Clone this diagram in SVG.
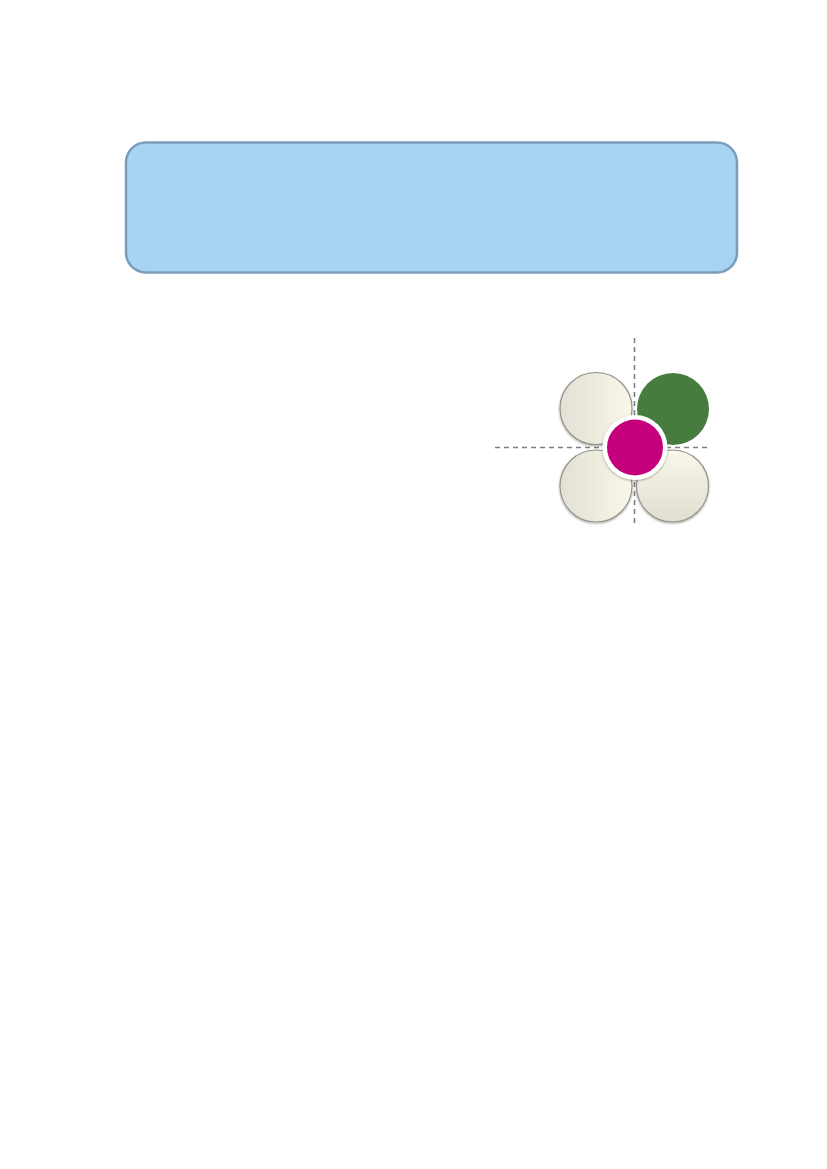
<svg xmlns="http://www.w3.org/2000/svg" width="827" height="1169" viewBox="0 0 827 1169">
  <style>
    .petal { stroke: #96948a; stroke-width: 1.2; filter: url(#shadow); }
    .guide { stroke: #7f7f7f; stroke-width: 1.6; stroke-dasharray: 5 4; fill: none; }
  </style>
  <defs>
    <linearGradient id="gH" x1="0" y1="0" x2="1" y2="0">
      <stop offset="0" stop-color="#e2e0d4"/>
      <stop offset="1" stop-color="#f9f7e9"/>
    </linearGradient>
    <linearGradient id="gV" x1="0" y1="0" x2="0" y2="1">
      <stop offset="0" stop-color="#f9f7e9"/>
      <stop offset="1" stop-color="#e0ded1"/>
    </linearGradient>
    <filter id="shadow" x="-20%" y="-20%" width="140%" height="140%">
      <feDropShadow dx="0" dy="1" stdDeviation="1" flood-color="#000" flood-opacity="0.35"/>
    </filter>
  </defs>
  <rect width="827" height="1169" fill="#ffffff"/>

  <g id="header">
    <rect x="126" y="142.5" width="611" height="130" rx="20" ry="20" fill="#a8d4f4" stroke="#7a9dbb" stroke-width="2.5"/>
  </g>

  <g id="connectors">
    <line class="guide" x1="634.5" y1="338" x2="634.5" y2="524"/>
    <line class="guide" x1="495" y1="447.5" x2="707" y2="447.5"/>
  </g>

  <g id="petal-top-left">
    <circle class="petal" cx="596" cy="408.5" r="36" fill="url(#gH)"/>
  </g>
  <g id="petal-top-right">
    <circle cx="673" cy="409" r="36" fill="#467c3e"/>
  </g>
  <g id="petal-bottom-left">
    <circle class="petal" cx="596" cy="486" r="36" fill="url(#gH)"/>
  </g>
  <g id="petal-bottom-right">
    <circle class="petal" cx="672.5" cy="486" r="36" fill="url(#gV)"/>
  </g>
  <g id="center">
    <circle cx="635" cy="447.5" r="32.5" fill="#ffffff" filter="url(#shadow)"/>
    <circle cx="635" cy="447.5" r="28" fill="#c4007c"/>
  </g>
</svg>
